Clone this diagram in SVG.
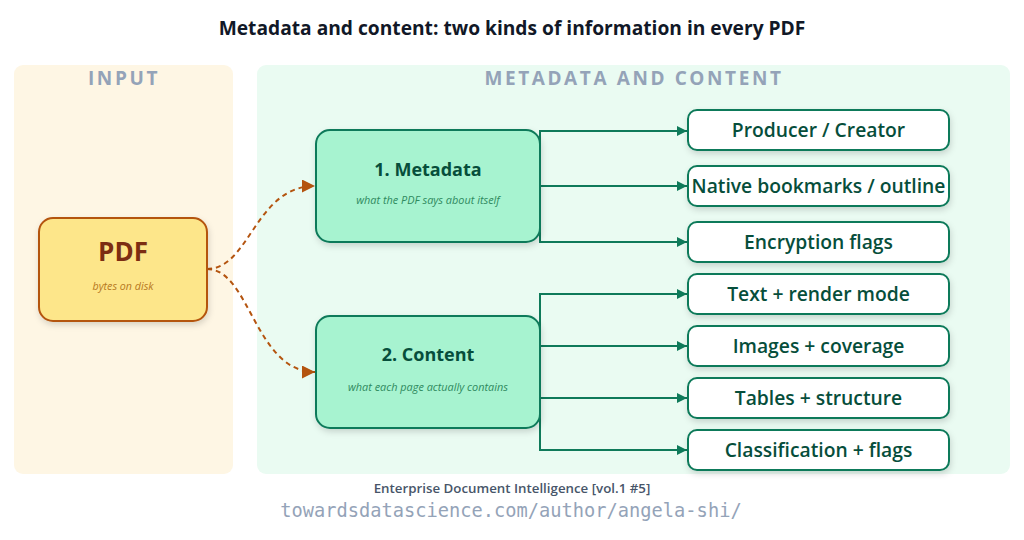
<svg xmlns="http://www.w3.org/2000/svg" width="1024" height="540" viewBox="0 0 1024 540">
<defs>
<style>
.t{font-family:"Open Sans","Noto Sans","DejaVu Sans",sans-serif}
.title{font-size:19.2px;font-weight:700;fill:#111827}
.panel-t{font-size:19px;font-weight:700;fill:#94a3b8;letter-spacing:2.6px}
.leaf rect{fill:#ffffff;stroke:#0f7a5a;stroke-width:2;filter:url(#sh)}
.leaf text{font-size:19.3px;font-weight:600;fill:#064e3b}
.mid rect{fill:#a7f3d0;stroke:#0f7a5a;stroke-width:2;filter:url(#sh)}
.mid .h{font-size:18px;font-weight:700;fill:#064e3b}
.mid .s{font-size:10.9px;font-style:italic;fill:#2f8a5f}
.g{fill:none;stroke:#0f7a5a;stroke-width:2}
.d{fill:none;stroke:#b4540f;stroke-width:2;stroke-dasharray:5 4}
</style>
<filter id="sh" x="-10%" y="-10%" width="125%" height="135%">
<feDropShadow dx="1" dy="3" stdDeviation="3" flood-color="#000" flood-opacity="0.15"/>
</filter>
<marker id="ag" viewBox="0 0 10 10" refX="10" refY="5" markerWidth="5" markerHeight="5" orient="auto" markerUnits="strokeWidth">
<path d="M0 0L10 5L0 10z" fill="#0f7a5a"/>
</marker>
<marker id="ao" viewBox="0 0 10 10" refX="10" refY="5" markerWidth="13" markerHeight="13" orient="auto" markerUnits="userSpaceOnUse">
<path d="M0 0L10 5L0 10z" fill="#b4540f"/>
</marker>
</defs>
<rect width="1024" height="540" fill="#ffffff"/>
<text class="t title" x="512" y="35" text-anchor="middle">Metadata and content: two kinds of information in every PDF</text>

<g id="panel-input">
<rect x="14" y="65" width="219" height="409" rx="9" fill="#fef6e4"/>
<text class="t panel-t" x="124" y="85" text-anchor="middle">INPUT</text>
</g>
<g id="panel-meta">
<rect x="257" y="65" width="753" height="409" rx="9" fill="#eafbf2"/>
<text class="t panel-t" x="634" y="85" text-anchor="middle">METADATA AND CONTENT</text>
</g>

<g id="connectors">
<path class="d" d="M207 269 C250 269 255 186 315 186" marker-end="url(#ao)"/>
<path class="d" d="M207 269 C250 269 255 372 315 372" marker-end="url(#ao)"/>
<path class="g" d="M540 186 V131 H687" marker-end="url(#ag)"/>
<path class="g" d="M540 186 H687" marker-end="url(#ag)"/>
<path class="g" d="M540 186 V242 H687" marker-end="url(#ag)"/>
<path class="g" d="M540 372 V294 H687" marker-end="url(#ag)"/>
<path class="g" d="M540 372 V346 H687" marker-end="url(#ag)"/>
<path class="g" d="M540 372 V398 H687" marker-end="url(#ag)"/>
<path class="g" d="M540 372 V450 H687" marker-end="url(#ag)"/>
</g>

<g id="pdf">
<rect x="39" y="218" width="168" height="103" rx="14" fill="#fde68a" stroke="#b4540f" stroke-width="2" filter="url(#sh)"/>
<text class="t" x="123" y="261" text-anchor="middle" font-size="26" font-weight="700" fill="#7c2d12">PDF</text>
<text class="t" x="123" y="290" text-anchor="middle" font-size="10.7" font-style="italic" fill="#b7791f">bytes on disk</text>
</g>

<g id="metadata" class="mid">
<rect x="316" y="130" width="224" height="112" rx="14"/>
<text class="t h" x="428" y="176" text-anchor="middle">1. Metadata</text>
<text class="t s" x="428" y="204" text-anchor="middle">what the PDF says about itself</text>
</g>
<g id="content" class="mid">
<rect x="316" y="316" width="224" height="112" rx="14"/>
<text class="t h" x="428" y="361" text-anchor="middle">2. Content</text>
<text class="t s" x="428" y="391" text-anchor="middle">what each page actually contains</text>
</g>

<g id="producer" class="leaf"><rect x="688" y="110" width="261" height="40" rx="9"/><text class="t" x="818.5" y="136.5" text-anchor="middle">Producer / Creator</text></g>
<g id="bookmarks" class="leaf"><rect x="688" y="166" width="261" height="40" rx="9"/><text class="t" x="818.5" y="192.5" text-anchor="middle">Native bookmarks / outline</text></g>
<g id="encryption" class="leaf"><rect x="688" y="222" width="261" height="40" rx="9"/><text class="t" x="818.5" y="248.5" text-anchor="middle">Encryption flags</text></g>
<g id="text" class="leaf"><rect x="688" y="274" width="261" height="40" rx="9"/><text class="t" x="818.5" y="300.5" text-anchor="middle">Text + render mode</text></g>
<g id="images" class="leaf"><rect x="688" y="326" width="261" height="40" rx="9"/><text class="t" x="818.5" y="352.5" text-anchor="middle">Images + coverage</text></g>
<g id="tables" class="leaf"><rect x="688" y="378" width="261" height="40" rx="9"/><text class="t" x="818.5" y="404.5" text-anchor="middle">Tables + structure</text></g>
<g id="classification" class="leaf"><rect x="688" y="430" width="261" height="40" rx="9"/><text class="t" x="818.5" y="456.5" text-anchor="middle">Classification + flags</text></g>

<text class="t" x="512" y="493" text-anchor="middle" font-size="13.3" font-weight="600" fill="#475569">Enterprise Document Intelligence [vol.1 #5]</text>
<text x="511" y="517" text-anchor="middle" font-family="DejaVu Sans Mono, monospace" font-size="18.7" fill="#94a3b8">towardsdatascience.com/author/angela-shi/</text>
</svg>
